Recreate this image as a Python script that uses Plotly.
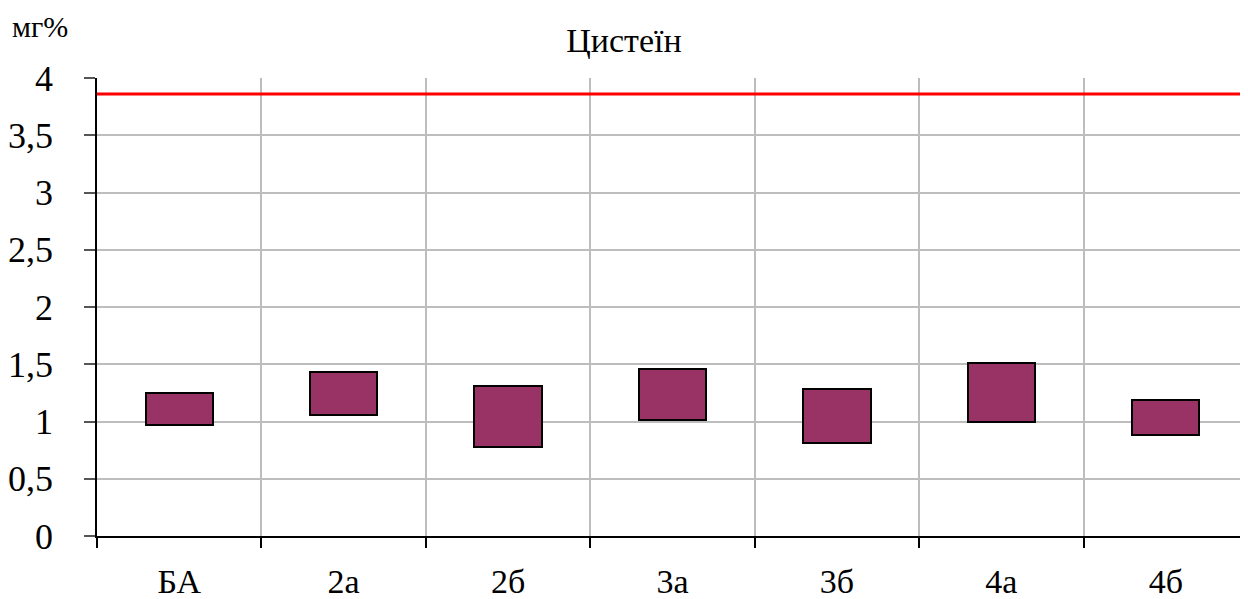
import plotly.graph_objects as go

categories = ["БА", "2а", "2б", "3а", "3б", "4а", "4б"]
low_values = [0.97, 1.06, 0.78, 1.01, 0.81, 1.00, 0.88]
high_values = [1.25, 1.43, 1.31, 1.46, 1.28, 1.51, 1.19]
norm_value = 3.86
y_tick_vals = [0, 0.5, 1, 1.5, 2, 2.5, 3, 3.5, 4]
y_tick_text = ["0", "0,5", "1", "1,5", "2", "2,5", "3", "3,5", "4"]

n = len(categories)
centers = [i + 0.5 for i in range(n)]
bounds = list(range(n + 1))
heights = [h - l for h, l in zip(high_values, low_values)]

FONT = "Liberation Serif"
OFF = 8  # default page body margin
W, H = 1248 - OFF, 599 - OFF
ML, MR, MT, MB = 97 - OFF, 0, 78 - OFF, 63
PW, PH = W - ML - MR, H - MT - MB

fig = go.Figure()
fig.add_trace(go.Bar(
    x=centers, y=heights, base=low_values, width=0.41,
    marker=dict(color="#993366", line=dict(color="black", width=2)),
    showlegend=False, hoverinfo="skip",
))
fig.add_trace(go.Scatter(
    x=[0, n], y=[norm_value, norm_value], mode="lines",
    line=dict(color="#ff0000", width=3), showlegend=False, hoverinfo="skip",
))

fig.update_layout(
    width=W, height=H,
    margin=dict(l=ML, r=MR, t=MT, b=MB),
    paper_bgcolor="white", plot_bgcolor="white",
    font=dict(family=FONT, size=32, color="black"),
    title=dict(text="Цистеїн", x=(624 - OFF) / W, xref="container", xanchor="center",
               y=1 - (40 - OFF) / H, yref="container", yanchor="middle",
               font=dict(family=FONT, size=34, color="black")),
    annotations=[dict(text="мг%", x=(10 - OFF - ML) / PW, y=(H - MB - (27 - OFF)) / PH,
                      xref="paper", yref="paper",
                      xanchor="left", yanchor="middle", showarrow=False,
                      font=dict(family=FONT, size=30, color="black"))],
    bargap=0,
)
fig.update_xaxes(
    range=[0, n], tickvals=centers, ticktext=categories, ticks="", showgrid=False,
    showline=True, linecolor="black", linewidth=1.5, zeroline=False,
    tickfont=dict(family=FONT, size=34), ticklabelstandoff=14,
    minor=dict(tickvals=bounds, ticks="outside", ticklen=10, tickcolor="black",
               tickwidth=1.5, showgrid=True, gridcolor="#bdbdbd", gridwidth=2),
)
fig.update_yaxes(
    range=[0, 4], tickvals=y_tick_vals, ticktext=y_tick_text, ticks="outside",
    ticklen=11, tickcolor="#555555", tickwidth=1.5, showgrid=True, gridcolor="#bdbdbd",
    gridwidth=2, showline=True, linecolor="black", linewidth=1.5, zeroline=False,
    tickfont=dict(family=FONT, size=36), ticklabelstandoff=24,
)

fig.write_html("out.html")
